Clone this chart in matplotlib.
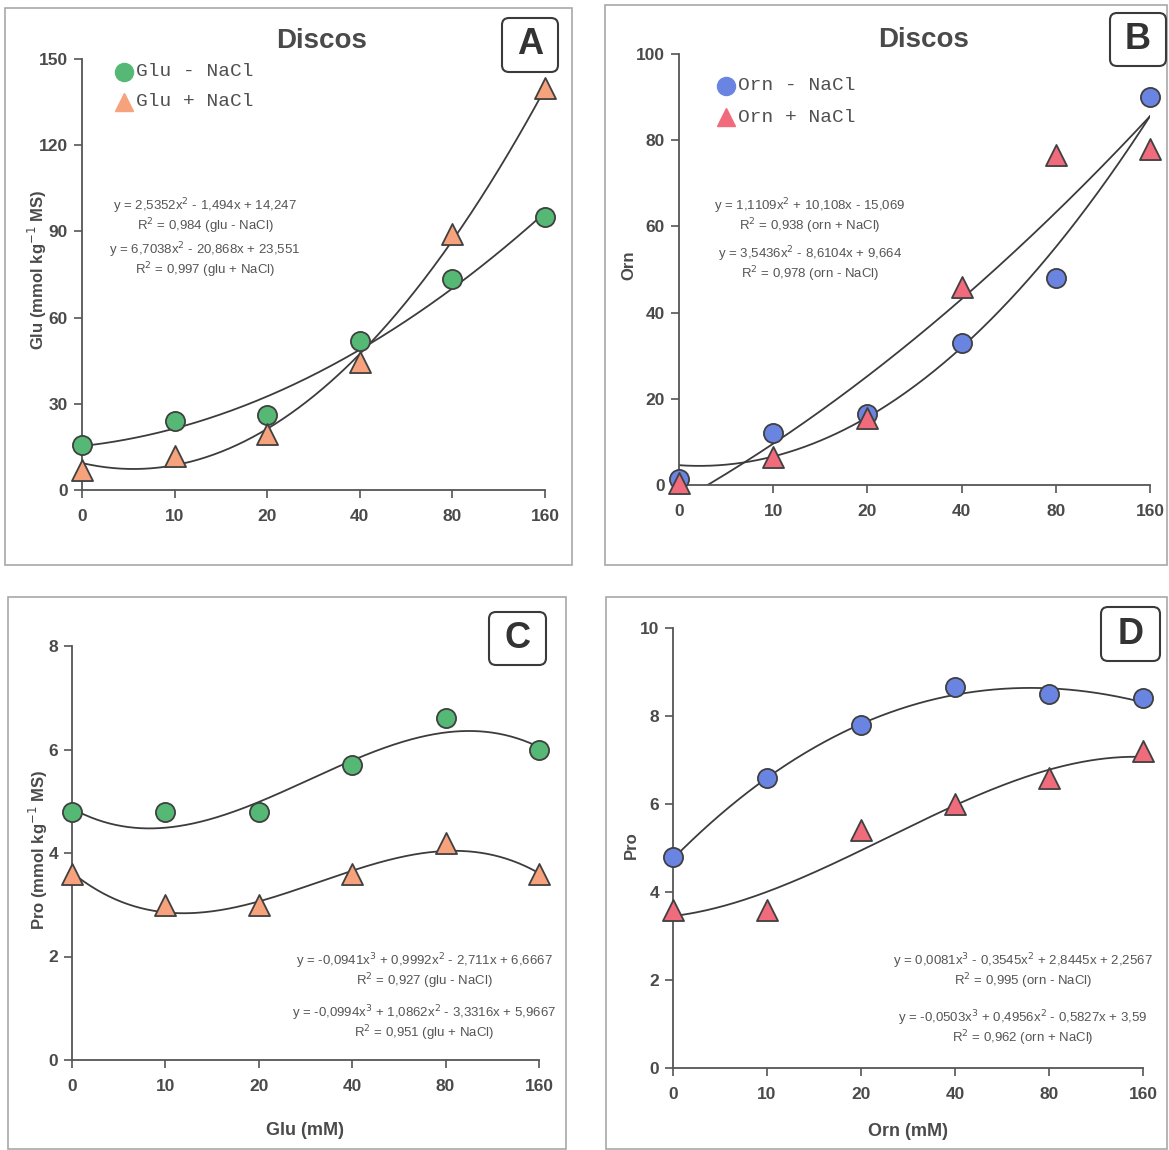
import numpy as np
import matplotlib.pyplot as plt
from matplotlib.patches import Rectangle, FancyBboxPatch
from matplotlib.lines import Line2D

W, H = 1169, 1150

doses = ['0', '10', '20', '40', '80', '160']
pos = np.arange(1, 7)

# measured points
glu_minus = [15.5, 24, 26, 52, 73.5, 95]
glu_plus = [7, 12, 19.5, 44.5, 89, 140]
orn_minus = [1.5, 12, 16.5, 33, 48, 90]
orn_plus = [0.5, 6.5, 15.5, 46, 76.5, 78]
pro_glu_minus = [4.8, 4.8, 4.8, 5.7, 6.6, 6.0]
pro_glu_plus = [3.6, 3.0, 3.0, 3.6, 4.2, 3.6]
pro_orn_minus = [4.8, 6.6, 7.8, 8.65, 8.5, 8.4]
pro_orn_plus = [3.6, 3.6, 5.4, 6.0, 6.6, 7.2]

# trendline coefficients (highest power first)
fit_glu_minus = [2.5352, -1.494, 14.247]
fit_glu_plus = [6.7038, -20.868, 23.551]
fit_orn_plus = [1.1109, 10.108, -15.069]
fit_orn_minus = [3.5436, -8.6104, 9.664]
fit_pro_glu_minus = [-0.0941, 0.9992, -2.711, 6.6667]
fit_pro_glu_plus = [-0.0994, 1.0862, -3.3316, 5.9667]
fit_pro_orn_minus = [0.0081, -0.3545, 2.8445, 2.2567]
fit_pro_orn_plus = [-0.0503, 0.4956, -0.5827, 3.59]

green = '#55b874'
orange = '#f6a27c'
blue = '#6a84e2'
pink = '#f06c7c'
edge = '#404040'
txt = '#4a4a4a'

plt.rcParams['font.family'] = ['Liberation Sans', 'DejaVu Sans']

fig = plt.figure(figsize=(W / 100, H / 100), dpi=100)


def fx(x):
    return x / W


def fy(y):
    return 1 - y / H


def make_ax(x0, x1, y0, y1, ymax, ystep):
    ax = fig.add_axes([fx(x0), fy(y0), fx(x1) - fx(x0), fy(y1) - fy(y0)])
    ax.set_xlim(1, 6)
    ax.set_ylim(0, ymax)
    ax.set_xticks(pos)
    ax.set_xticklabels(doses)
    ax.set_yticks(np.arange(0, ymax + ystep / 2, ystep))
    for s in ['top', 'right']:
        ax.spines[s].set_visible(False)
    for s in ['left', 'bottom']:
        ax.spines[s].set_color('#555555')
        ax.spines[s].set_linewidth(1.3)
    ax.tick_params(length=6, width=1.2, color='#555555', labelcolor=txt, labelsize=12.5)
    ax.tick_params(axis='y', pad=4)
    ax.tick_params(axis='x', pad=8)
    for lab in ax.get_xticklabels() + ax.get_yticklabels():
        lab.set_fontweight('bold')
    return ax


def draw_series(ax, vals, fit, marker, color):
    xs = np.linspace(1, 6, 300)
    ax.plot(xs, np.polyval(fit, xs), color='#3c3c3c', lw=1.3, zorder=2)
    size = 190 if marker == 'o' else 230
    ax.scatter(pos, vals, s=size, marker=marker, facecolor=color, edgecolor=edge,
               linewidth=1.3, zorder=3, clip_on=False)


def eq_lines(lines, x, ys):
    for t, y in zip(lines, ys):
        fig.text(fx(x), fy(y), t, ha='center', va='center', fontsize=9.5, color='#555555')


def ylab(ax, text, xa, ya):
    ax.set_ylabel(text, fontsize=12, fontweight='bold', color=txt)
    ax.yaxis.set_label_coords(xa, ya)


def xlab(ax, text, ya):
    ax.set_xlabel(text, fontsize=13, fontweight='bold', color=txt)
    ax.xaxis.set_label_coords(0.5, ya)


# panel A
axA = make_ax(82, 545, 490, 59, 150, 30)
draw_series(axA, glu_minus, fit_glu_minus, 'o', green)
draw_series(axA, glu_plus, fit_glu_plus, '^', orange)
ylab(axA, 'Glu (mmol kg$^{-1}$ MS)', -0.072, 0.51)
eq_lines(['y = 2,5352x$^2$ - 1,494x + 14,247', 'R$^2$ = 0,984 (glu - NaCl)',
          'y = 6,7038x$^2$ - 20,868x + 23,551', 'R$^2$ = 0,997 (glu + NaCl)'],
         205, [206, 226, 250, 270])

# panel B
axB = make_ax(679, 1150, 485, 54, 100, 20)
draw_series(axB, orn_minus, fit_orn_minus, 'o', blue)
draw_series(axB, orn_plus, fit_orn_plus, '^', pink)
ylab(axB, 'Orn', -0.091, 0.51)
eq_lines(['y = 1,1109x$^2$ + 10,108x - 15,069', 'R$^2$ = 0,938 (orn + NaCl)',
          'y = 3,5436x$^2$ - 8,6104x + 9,664', 'R$^2$ = 0,978 (orn - NaCl)'],
         810, [206, 226, 254, 274])

# panel C
axC = make_ax(72, 539, 1060, 646, 8, 2)
draw_series(axC, pro_glu_minus, fit_pro_glu_minus, 'o', green)
draw_series(axC, pro_glu_plus, fit_pro_glu_plus, '^', orange)
ylab(axC, 'Pro (mmol kg$^{-1}$ MS)', -0.047, 0.507)
xlab(axC, 'Glu (mM)', -0.1495)
eq_lines(['y = -0,0941x$^3$ + 0,9992x$^2$ - 2,711x + 6,6667', 'R$^2$ = 0,927 (glu - NaCl)',
          'y = -0,0994x$^3$ + 1,0862x$^2$ - 3,3316x + 5,9667', 'R$^2$ = 0,951 (glu + NaCl)'],
         424, [961, 981, 1013, 1033])

# panel D
axD = make_ax(673, 1143, 1068, 628, 10, 2)
draw_series(axD, pro_orn_minus, fit_pro_orn_minus, 'o', blue)
draw_series(axD, pro_orn_plus, fit_pro_orn_plus, '^', pink)
ylab(axD, 'Pro', -0.0724, 0.507)
xlab(axD, 'Orn (mM)', -0.125)
eq_lines(['y = 0,0081x$^3$ - 0,3545x$^2$ + 2,8445x + 2,2567', 'R$^2$ = 0,995 (orn - NaCl)',
          'y = -0,0503x$^3$ + 0,4956x$^2$ - 0,5827x + 3,59', 'R$^2$ = 0,962 (orn + NaCl)'],
         1023, [961, 981, 1018, 1038])

# titles
fig.text(fx(322), fy(41), 'Discos', ha='center', va='center', fontsize=20, fontweight='bold', color='#4a4a4a')
fig.text(fx(924), fy(40), 'Discos', ha='center', va='center', fontsize=20, fontweight='bold', color='#4a4a4a')


# legends
def legend_row(x, y, marker, color, label):
    fig.lines.append(Line2D([fx(x)], [fy(y)], marker=marker, markersize=13, color=color,
                            markeredgecolor=color, transform=fig.transFigure))
    fig.text(fx(x + 12), fy(y), label, ha='left', va='center', fontsize=14,
             family='Liberation Mono', color='#505050')


legend_row(124, 72, 'o', green, 'Glu - NaCl')
legend_row(124, 102, '^', orange, 'Glu + NaCl')
legend_row(726, 86, 'o', blue, 'Orn - NaCl')
legend_row(726, 117, '^', pink, 'Orn + NaCl')

# panel frames
for x0, y0, x1, y1 in [(5, 8, 572, 565), (605, 5, 1167, 565), (8, 597, 566, 1149), (606, 597, 1167, 1149)]:
    fig.patches.append(Rectangle((fx(x0), fy(y1)), fx(x1) - fx(x0), fy(y0) - fy(y1),
                                 fill=False, edgecolor='#a8a8a8', lw=1.2, transform=fig.transFigure))

# panel letters
for letter, x0, y0, x1, y1 in [('A', 502, 18, 558, 72), ('B', 1110, 13, 1166, 66),
                               ('C', 489, 612, 546, 665), ('D', 1101, 607, 1160, 661)]:
    fig.patches.append(FancyBboxPatch((fx(x0), fy(y1)), fx(x1) - fx(x0), fy(y0) - fy(y1),
                                      boxstyle='round,pad=0,rounding_size=0.006', fill=False,
                                      edgecolor='#3a3a3a', lw=1.5, transform=fig.transFigure))
    fig.text(fx((x0 + x1) / 2), fy((y0 + y1) / 2), letter, ha='center', va='center',
             fontsize=26, fontweight='bold', color='#333333')

fig.savefig('out.png', dpi=100)
